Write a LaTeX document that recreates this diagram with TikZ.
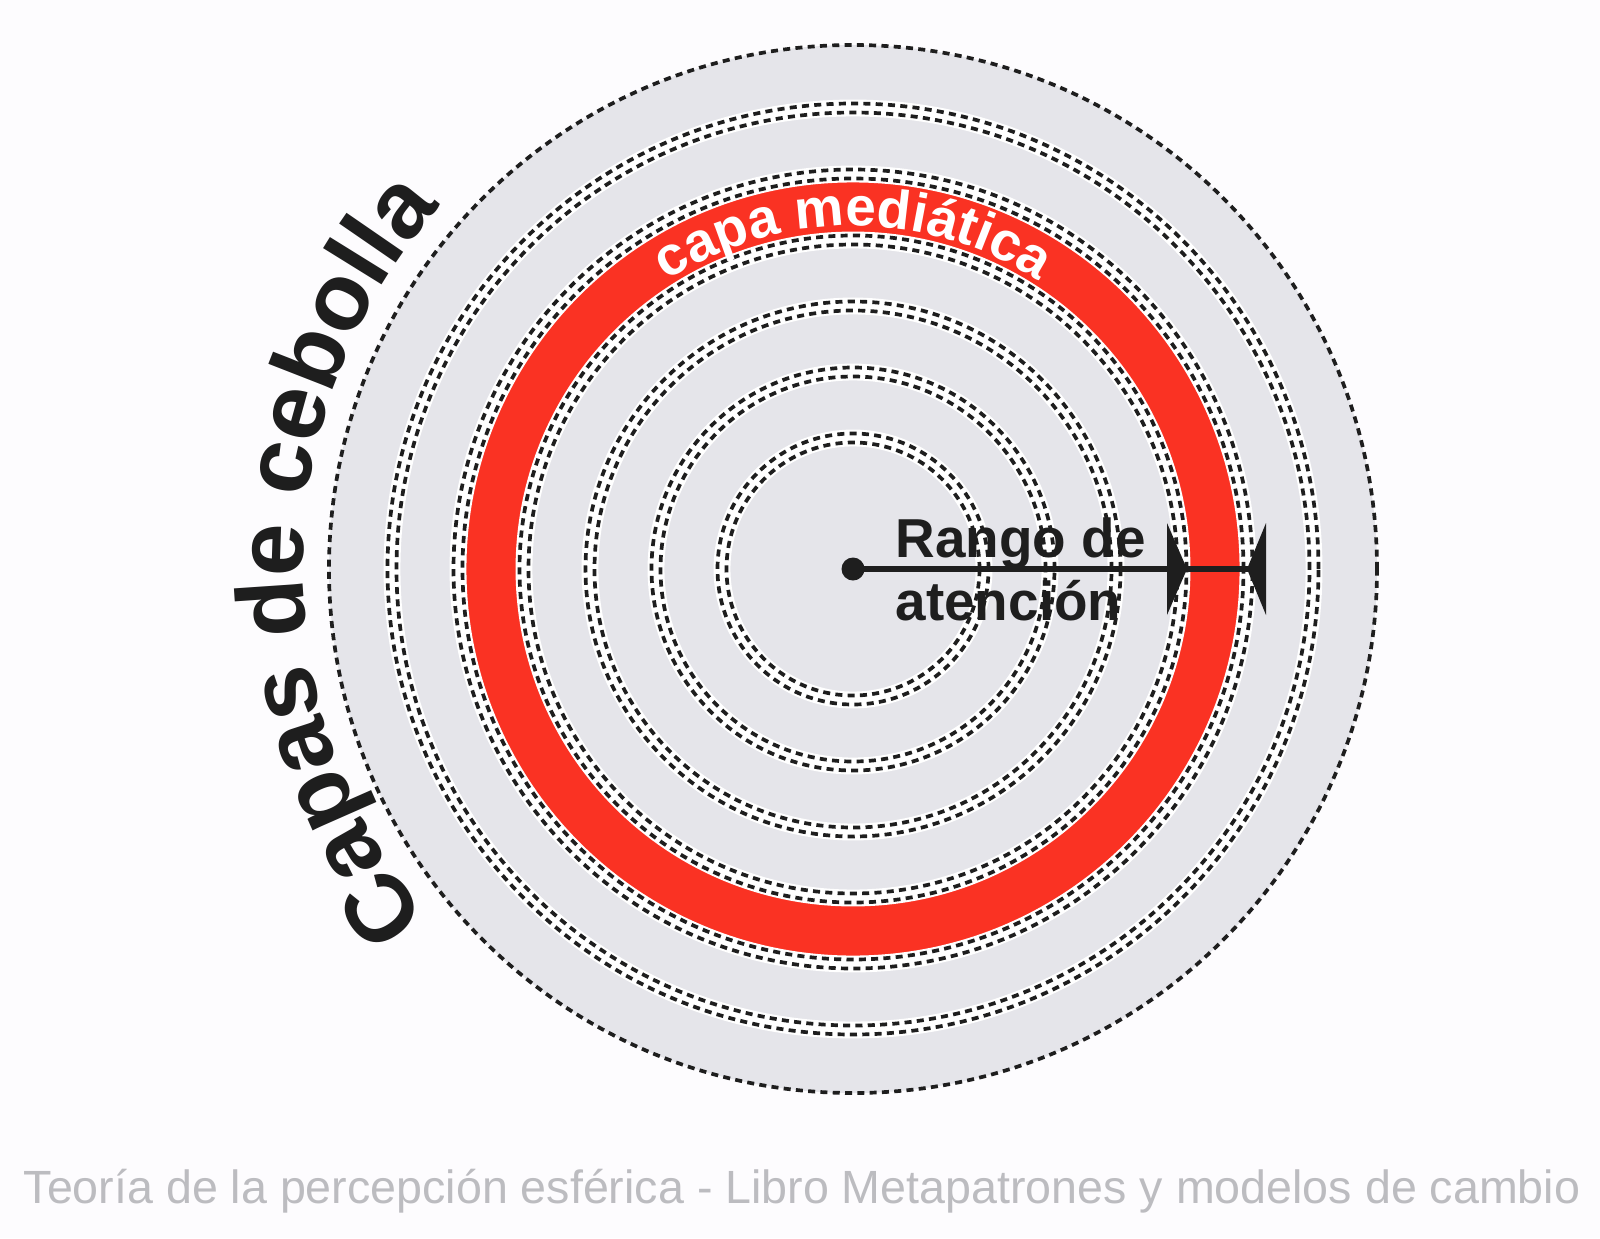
\documentclass[tikz,border=0pt]{standalone}
\usepackage{fontspec}
\setmainfont{Liberation Sans}
\usepackage{tikz}
\usetikzlibrary{decorations.text}

\definecolor{paper}{RGB}{253,252,254}
\definecolor{layergray}{RGB}{229,229,234}
\definecolor{mediared}{RGB}{250,50,35}
\definecolor{inkblack}{RGB}{30,30,30}
\definecolor{captiongray}{RGB}{188,188,192}

\begin{document}
\begin{tikzpicture}[x=0.01cm, y=0.01cm,
	seam/.style={draw=white, line width=4.8pt},
	dashring/.style={draw=inkblack, line width=1.05pt, dash pattern=on 2pt off 1.5pt},
	hubdot/.style={circle, fill=inkblack, inner sep=0pt, minimum size=0.23cm},
	reachline/.style={draw=inkblack, line width=1.7pt},
	marker/.style={fill=inkblack}]
	\def \cx {853}
	\def \cy {669}
	
	\fill[paper] (0,0) rectangle (1600,1238);
	\useasboundingbox (0,0) rectangle (1600,1238);
	
	\coordinate (centre) at (\cx,\cy);
	
	\fill[layergray] (centre) circle[radius=524];
	\fill[mediared, even odd rule] (centre) circle[radius=395] (centre) circle[radius=329];
	\foreach \r in {131,197,263,329,395,461} {
		\draw[seam] (centre) circle[radius=\r];
		\draw[dashring] (centre) circle[radius={\r-4.5}];
		\draw[dashring] (centre) circle[radius={\r+4.5}];
	}
	\draw[dashring] (centre) circle[radius=524];
	
	\path[decorate, decoration={text along path, text align=center, text color=white,
		text={|\bfseries\fontsize{15.6}{18}\selectfont|capa mediática}}]
		([shift={(150:343)}]centre) arc[start angle=150, end angle=30, radius=343];
	\path[decorate, decoration={text along path, text align=center, text color=inkblack,
		text={|\bfseries\fontsize{27}{30}\selectfont|Capas de cebolla}}]
		([shift={(264:550)}]centre) arc[start angle=264, end angle=94, radius=550];
	
	\node[hubdot] (hub) at (centre) {};
	\coordinate (reach) at (1266,\cy);
	\coordinate (innermark) at (1167,\cy);
	\draw[reachline] (hub.center) -- (reach);
	\fill[marker] (innermark) ++(0,46) -- ++(20,-46) -- ++(-20,-46) -- cycle;
	\fill[marker] (reach) ++(0,46) -- ++(-19,-46) -- ++(19,-46) -- cycle;
	
	\node[anchor=base west, align=left, inner sep=0pt, text=inkblack,
		font=\bfseries\fontsize{15.6}{17.9}\selectfont] (rango) at (895,618)
		{Rango de\\atención};
	
	\node[anchor=base west, inner sep=0pt, text=captiongray,
		font=\fontsize{13.25}{15}\selectfont] (caption) at (23,35)
		{Teoría de la percepción esférica - Libro Metapatrones y modelos de cambio};
\end{tikzpicture}
\end{document}
